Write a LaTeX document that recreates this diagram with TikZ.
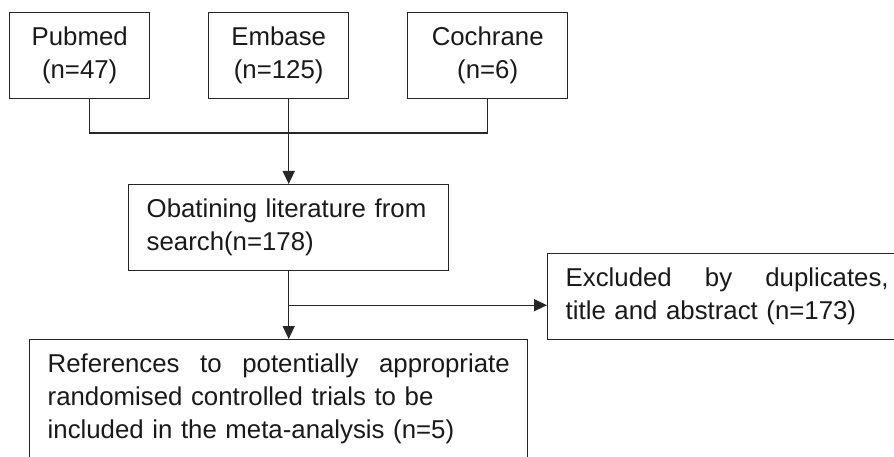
\documentclass[tikz,border=0pt]{standalone}
\usepackage{fontspec}
\setmainfont{Liberation Sans}
\usetikzlibrary{arrows.meta, positioning, calc}

\tikzset{
  box/.style={draw=black!85, line width=1.4pt, rectangle, inner xsep=18pt, inner ysep=0pt,
    minimum height=86pt, anchor=north west},
  srcbox/.style={box, align=center},
  txtbox/.style={box, align=left},
  link/.style={draw=black!85, line width=1.4pt}
}

\begin{document}
\begin{tikzpicture}[>={Triangle[length=13pt,width=12pt]}, x=1pt, y=-1pt,
    font=\fontsize{25.8}{33}\selectfont, text=black!90]
  \useasboundingbox (0,0) rectangle (894,457);

  \node[srcbox, minimum width=140pt] (pubmed) at (9,12) {Pubmed\\(n=47)};
  \node[srcbox, minimum width=140pt] (embase) at (208,12) {Embase\\(n=125)};
  \node[srcbox, minimum width=160pt] (cochrane) at (407,12) {Cochrane\\(n=6)};

  \node[txtbox, text width=284pt] (search) at (128,184) {Obatining literature from\\search(n=178)};
  \node[txtbox, text width=323pt] (excluded) at (547,253)
    {\makebox[323pt]{Excluded\hfill by\hfill duplicates,}\\title and abstract (n=173)};
  \node[txtbox, text width=462pt, minimum height=119pt] (included) at (29,339)
    {\makebox[462pt]{References\hfill to\hfill potentially\hfill appropriate}\\randomised controlled trials to be\\included in the meta-analysis (n=5)};

  % merging the three sources
  \coordinate (join) at (288,133);
  \draw[link] ([xshift=10pt]pubmed.south) |- (join) -| (cochrane.south);
  \draw[link,->] (embase.south -| search.north) -- (search.north);

  % screening
  \coordinate (branch) at ($(search.south)!0.5!(search.south |- included.north)$);
  \draw[link,->] (search.south) -- (search.south |- included.north);
  \draw[link,->] (branch) -- (branch -| excluded.west);
\end{tikzpicture}
\end{document}
